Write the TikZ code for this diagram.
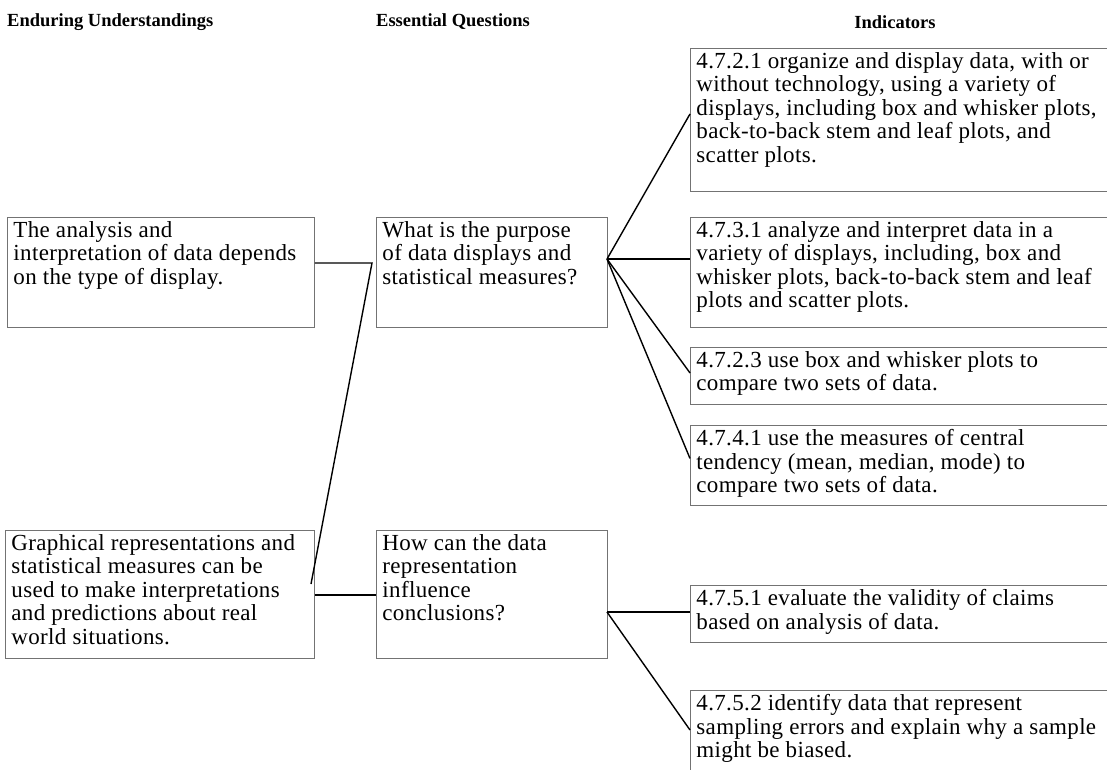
\documentclass[tikz,border=0pt]{standalone}
\usepackage{fontspec}
\setmainfont{Liberation Serif}
\newfontfamily\bodyfont{Liberation Serif}[LetterSpace=1.5]
\usetikzlibrary{calc}

\definecolor{boxgray}{gray}{0.45}
\newcommand{\boxtext}[3]{\parbox[t][#2pt][t]{#1pt}{\raggedright #3}}

\tikzset{
  txtbox/.style={draw=boxgray, line width=0.9pt, inner xsep=6pt, inner ysep=4pt,
    anchor=north west, font=\bodyfont\fontsize{23pt}{23.5pt}\selectfont},
  head/.style={inner sep=0pt, font=\bfseries\fontsize{18.5pt}{21pt}\selectfont},
  link/.style={black, line width=1.4pt}
}

\begin{document}
\begin{tikzpicture}[x=1pt, y=-1pt]

	\fill[white] (0,0) rectangle (1107,769);
	\useasboundingbox (0,0) rectangle (1107,769);
	\clip (0,0) rectangle (1107,769);

	% Column titles
	\node[head, anchor=west] (hEU) at (7,22) {Enduring Understandings};
	\node[head, anchor=west] (hEQ) at (376,22) {Essential Questions};
	\node[head] (hInd) at (895,22) {Indicators};

	% Enduring understandings
	\node[txtbox] (eu1) at (7,217) {\boxtext{295}{102}{The analysis and\\ interpretation of data depends\\ on the type of display.}};
	\node[txtbox] (eu2) at (5,530) {\boxtext{297}{120}{Graphical representations and\\ statistical measures can be\\ used to make interpretations\\ and predictions about real\\ world situations.}};

	% Essential questions
	\node[txtbox] (eq1) at (376,217) {\boxtext{219}{102}{What is the purpose\\ of data displays and\\ statistical measures?}};
	\node[txtbox] (eq2) at (376,530) {\boxtext{219}{120}{How can the data\\ representation\\ influence\\ conclusions?}};

	% Indicators
	\node[txtbox] (ind1) at (690,48) {\boxtext{420}{135}{4.7.2.1 organize and display data, with or\\ without technology, using a variety of\\ displays, including box and whisker plots,\\ back-to-back stem and leaf plots, and\\ scatter plots.}};
	\node[txtbox] (ind2) at (690,217) {\boxtext{420}{102}{4.7.3.1 analyze and interpret data in a\\ variety of displays, including, box and\\ whisker plots, back-to-back stem and leaf\\ plots and scatter plots.}};
	\node[txtbox] (ind3) at (690,347) {\boxtext{420}{49}{4.7.2.3 use box and whisker plots to\\ compare two sets of data.}};
	\node[txtbox] (ind4) at (690,425) {\boxtext{420}{72}{4.7.4.1 use the measures of central\\ tendency (mean, median, mode) to\\ compare two sets of data.}};
	\node[txtbox] (ind5) at (690,585) {\boxtext{420}{49}{4.7.5.1 evaluate the validity of claims\\ based on analysis of data.}};
	\node[txtbox] (ind6) at (690,690) {\boxtext{420}{100}{4.7.5.2 identify data that represent\\ sampling errors and explain why a sample\\ might be biased.}};

	% Junction points
	\coordinate (knee) at (372,263);
	\coordinate (foot) at (311,584);
	\coordinate (tie) at (318,595);
	\coordinate (hub1) at (607,259);
	\coordinate (hub2) at (607,612);

	% Understandings to questions
	\draw[link] (eu1.east |- knee) -- (knee) -- (foot);
	\draw[link] (eu2.east |- tie) -- (eq2.west |- tie);

	% Questions to indicators
	\draw[link] (hub1) -- ($(ind1.west)+(0,-6)$);
	\draw[link] (hub1) -- (ind2.west |- hub1);
	\draw[link] (hub1) -- ($(ind3.west)+(0,-3)$);
	\draw[link] (hub1) -- ($(ind4.west)+(0,-7)$);
	\draw[link] (hub2) -- (ind5.west |- hub2);
	\draw[link] (hub2) -- ($(ind6.north west)+(0,40)$);

\end{tikzpicture}
\end{document}
